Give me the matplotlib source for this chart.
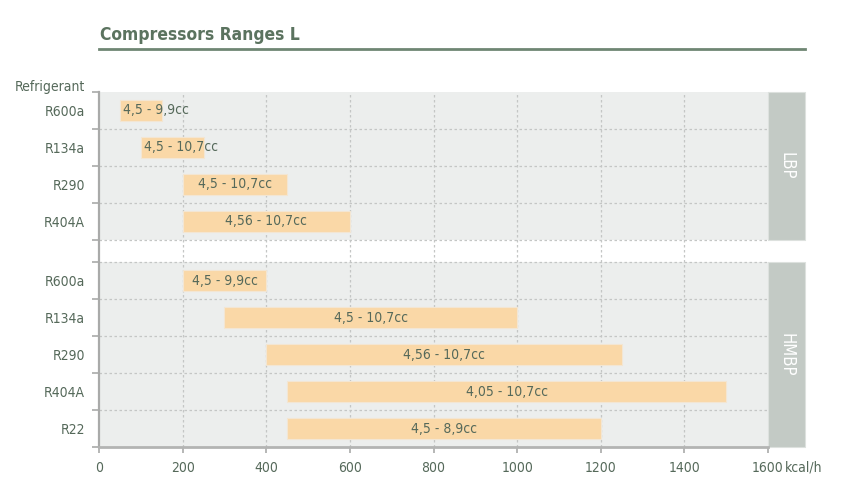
import numpy as np
import matplotlib.pyplot as plt
from matplotlib.patches import Rectangle
from matplotlib.lines import Line2D

# --- data -------------------------------------------------------------------
groups = ["LBP", "HMBP"]
lbp_refrigerants = ["R600a", "R134a", "R290", "R404A"]
lbp_start = [50, 100, 200, 200]
lbp_end = [150, 250, 450, 600]
lbp_labels = ["4,5 - 9,9cc", "4,5 - 10,7cc", "4,5 - 10,7cc", "4,56 - 10,7cc"]

hmbp_refrigerants = ["R600a", "R134a", "R290", "R404A", "R22"]
hmbp_start = [200, 300, 400, 450, 450]
hmbp_end = [400, 1000, 1250, 1500, 1200]
hmbp_labels = ["4,5 - 9,9cc", "4,5 - 10,7cc", "4,56 - 10,7cc", "4,05 - 10,7cc", "4,5 - 8,9cc"]

xticks = [0, 200, 400, 600, 800, 1000, 1200, 1400, 1600]

# --- style ------------------------------------------------------------------
plt.rcParams["font.family"] = ["DejaVu Sans"]
plt.rcParams["font.stretch"] = "condensed"
TXT = "#55695a"
BAR = "#fad8a7"
BAND = "#eceeed"
PANEL = "#c3cac5"
GRID = "#c4c6c5"
GAP = 0.6
FS = 10

fig = plt.figure(figsize=(8.55, 4.92), dpi=100)
ax = fig.add_axes([99 / 855, 1 - 447 / 492, 669 / 855, 355 / 492])

n_lbp = len(lbp_refrigerants)
n_hmbp = len(hmbp_refrigerants)
lbp_y = np.arange(n_lbp) + 0.5
hmbp_y = n_lbp + GAP + np.arange(n_hmbp) + 0.5
ytot = n_lbp + GAP + n_hmbp

bands = [(0, n_lbp), (n_lbp + GAP, ytot)]
for lo, hi in bands:
    ax.axhspan(lo, hi, color=BAND, zorder=0, lw=0)

# grid
for x in xticks[1:-1]:
    ax.axvline(x, color=GRID, ls=(0, (2, 2)), lw=0.9, zorder=1)
boundaries = list(np.arange(1, n_lbp + 1)) + list(n_lbp + GAP + np.arange(0, n_hmbp))
for yb in boundaries:
    ax.axhline(yb, color=GRID, ls=(0, (2, 2)), lw=0.9, zorder=1)

# bars
starts = lbp_start + hmbp_start
ends = lbp_end + hmbp_end
labels = lbp_labels + hmbp_labels
ys = list(lbp_y) + list(hmbp_y)
widths = np.array(ends) - np.array(starts)
ax.barh(ys, widths, left=starts, height=0.56, color=BAR,
        edgecolor="#f3e6d3", lw=0.8, zorder=2)
for s, w, y, lab in zip(starts, widths, ys, labels):
    if w <= 150:
        ax.text(s + 7, y, lab, ha="left", va="center", fontsize=FS,
                color=TXT, zorder=3)
    else:
        ax.text(s + w / 2, y, lab, ha="center", va="center", fontsize=FS,
                color=TXT, zorder=3)

# group panels on the right
for (lo, hi), name in zip(bands, groups):
    ax.add_patch(Rectangle((1600, lo), 88, hi - lo, facecolor=PANEL,
                           edgecolor="#dde1de", lw=0.8, clip_on=False, zorder=2))
    ax.text(1644, (lo + hi) / 2, name, rotation=270, ha="center", va="center",
            fontsize=12, color="white")

# axes
ax.set_xlim(0, 1600)
ax.set_ylim(ytot, 0)
ax.set_facecolor("white")
for sp in ["top", "right"]:
    ax.spines[sp].set_visible(False)
ax.spines["left"].set_color("#a9aaa9")
ax.spines["left"].set_linewidth(1.6)
ax.spines["bottom"].set_color("#b3b4b3")
ax.spines["bottom"].set_linewidth(2)

ax.set_xticks(xticks)
ax.set_xticklabels([str(x) for x in xticks])
ax.tick_params(axis="x", colors="#a9aaa9", labelcolor=TXT, labelsize=FS,
               length=4, width=1.2, pad=6)

ytick_pos = [0] + boundaries + [ytot]
ax.set_yticks(ytick_pos, minor=True)
ax.tick_params(axis="y", which="minor", colors="#a9aaa9", length=5, width=1.2)
ax.set_yticks(ys)
ax.set_yticklabels(lbp_refrigerants + hmbp_refrigerants)
ax.tick_params(axis="y", which="major", length=0, labelcolor=TXT,
               labelsize=FS, pad=10)

ax.annotate("kcal/h", xy=(1600, 0), xycoords=("data", "axes fraction"),
            xytext=(12, -10), textcoords="offset points", ha="left", va="top",
            fontsize=FS, color=TXT)
ax.annotate("Refrigerant", xy=(0, 1), xycoords="axes fraction",
            xytext=(-10, 3.6), textcoords="offset points", ha="right",
            va="center", fontsize=FS, color=TXT)

# title with underline
fig.text(100 / 855, 1 - 35 / 492, "Compressors Ranges L", ha="left",
         va="center", fontsize=12.5, fontweight="bold", color="#5b735f")
fig.add_artist(Line2D([99 / 855, 805 / 855], [1 - 49 / 492, 1 - 49 / 492],
                      color="#6f8673", lw=2))

fig.savefig("out.png", dpi=100)
